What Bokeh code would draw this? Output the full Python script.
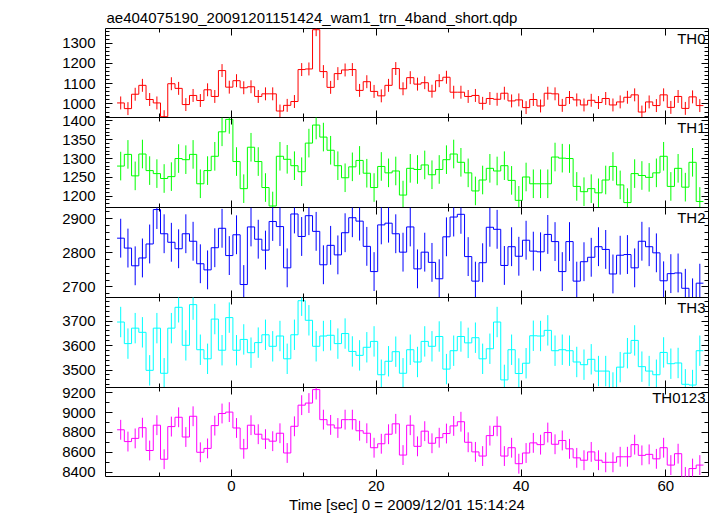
import math
from bokeh.plotting import figure
from bokeh.layouts import column
from bokeh.models import Range1d, SingleIntervalTicker, LinearAxis, Label, Title
from bokeh.embed import file_html
from bokeh.resources import INLINE

TITLE = "ae404075190_20091201151424_wam1_trn_4band_short.qdp"
XLABEL = "Time [sec] 0 = 2009/12/01 15:14:24"
YLABEL = "Counts/sec"

TIME = [-15.3, -14.3, -13.3, -12.3, -11.3, -10.3, -9.3, -8.3, -7.3, -6.3,
        -5.3, -4.3, -3.3, -2.3, -1.3, -0.3, 0.7, 1.7, 2.7, 3.7,
        4.7, 5.7, 6.7, 7.7, 8.7, 9.7, 10.7, 11.7, 12.7, 13.7,
        14.7, 15.7, 16.7, 17.7, 18.7, 19.7, 20.7, 21.7, 22.7, 23.7,
        24.7, 25.7, 26.7, 27.7, 28.7, 29.7, 30.7, 31.7, 32.7, 33.7,
        34.7, 35.7, 36.7, 37.7, 38.7, 39.7, 40.7, 41.7, 42.7, 43.7,
        44.7, 45.7, 46.7, 47.7, 48.7, 49.7, 50.7, 51.7, 52.7, 53.7,
        54.7, 55.7, 56.7, 57.7, 58.7, 59.7, 60.7, 61.7, 62.7, 63.7, 64.7]
BIN_WIDTH = 1.0

TH0 = [1005, 977, 1048, 1092, 1022, 1005, 937, 1100, 1077, 997,
       1042, 1017, 1070, 1037, 1165, 1083, 1115, 1080, 1085, 1037,
       1050, 1050, 965, 993, 1012, 1170, 1173, 1367, 1160, 1082,
       1150, 1168, 1170, 1067, 1110, 1062, 1040, 1092, 1175, 1075,
       1130, 1098, 1105, 1063, 1115, 1132, 1058, 1058, 1037, 1042,
       1003, 1027, 1023, 1053, 1015, 1020, 982, 1022, 990, 1053,
       1050, 993, 1032, 1020, 995, 1018, 1007, 1027, 995, 1010,
       1033, 1045, 960, 1010, 992, 1045, 983, 1037, 978, 1035, 992]

TH1 = [1280, 1311, 1254, 1312, 1268, 1260, 1247, 1252, 1300, 1297,
       1311, 1233, 1268, 1306, 1371, 1404, 1292, 1220, 1330, 1292,
       1223, 1174, 1306, 1298, 1281, 1265, 1341, 1389, 1357, 1322,
       1281, 1249, 1278, 1295, 1261, 1223, 1279, 1262, 1267, 1203,
       1274, 1271, 1283, 1257, 1271, 1297, 1312, 1290, 1262, 1214,
       1243, 1274, 1267, 1281, 1242, 1189, 1251, 1233, 1233, 1233,
       1304, 1301, 1300, 1226, 1212, 1220, 1209, 1243, 1279, 1230,
       1183, 1260, 1255, 1250, 1262, 1306, 1226, 1274, 1224, 1290, 1186]

TH2 = [2843, 2814, 2762, 2785, 2826, 2927, 2856, 2831, 2812, 2856,
       2834, 2768, 2750, 2815, 2872, 2792, 2853, 2707, 2876, 2840,
       2808, 2892, 2877, 2756, 2914, 2848, 2909, 2863, 2765, 2822,
       2794, 2859, 2903, 2893, 2819, 2745, 2882, 2887, 2856, 2802,
       2876, 2753, 2802, 2772, 2724, 2847, 2905, 2913, 2789, 2717,
       2771, 2875, 2869, 2763, 2818, 2790, 2837, 2805, 2803, 2854,
       2833, 2745, 2833, 2717, 2774, 2787, 2818, 2810, 2738, 2793,
       2795, 2756, 2834, 2818, 2800, 2718, 2739, 2741, 2696, 2668, 2711]

TH3 = [3696, 3608, 3671, 3654, 3499, 3671, 3487, 3671, 3756, 3601,
       3767, 3583, 3546, 3708, 3581, 3714, 3581, 3625, 3571, 3612,
       3644, 3597, 3639, 3546, 3644, 3783, 3703, 3597, 3639, 3642,
       3608, 3649, 3576, 3560, 3593, 3617, 3481, 3536, 3575, 3487,
       3583, 3533, 3617, 3597, 3637, 3504, 3579, 3637, 3611, 3632,
       3546, 3587, 3696, 3460, 3583, 3486, 3528, 3640, 3639, 3662,
       3579, 3583, 3579, 3533, 3522, 3544, 3496, 3496, 3429, 3512,
       3569, 3621, 3514, 3496, 3481, 3572, 3526, 3529, 3442, 3439, 3579]

TH0123 = [8826, 8707, 8739, 8847, 8617, 8872, 8529, 8858, 8952, 8753,
          8962, 8599, 8638, 8868, 8990, 9004, 8844, 8634, 8872, 8781,
          8732, 8711, 8791, 8592, 8861, 9074, 9095, 9231, 8928, 8875,
          8844, 8928, 8928, 8816, 8791, 8645, 8685, 8781, 8886, 8571,
          8872, 8659, 8812, 8690, 8746, 8788, 8865, 8907, 8700, 8603,
          8561, 8767, 8861, 8561, 8645, 8484, 8592, 8694, 8676, 8798,
          8680, 8718, 8634, 8543, 8519, 8603, 8519, 8498, 8498, 8554,
          8554, 8676, 8568, 8578, 8533, 8645, 8470, 8585, 8350, 8435, 8470]

BANDS = ["TH0", "TH1", "TH2", "TH3", "TH0123"]
SERIES = [TH0, TH1, TH2, TH3, TH0123]
ERRS = [32, 38, 57, 62, 100]
COLORS = ["#ff0000", "#00ff00", "#0000ff", "#00ffff", "#ff00ff"]
YLIMS = [(933, 1373), (1170, 1409), (2669, 2933), (3429, 3796), (8355, 9252)]
YMAJOR = [100, 50, 100, 100, 200]
YMINOR = [5, 5, 5, 5, 2]
X_RANGE = (-17.4, 65.9)

FONT = "Liberation Sans"
FS = "15px"

xr = Range1d(*X_RANGE)
frame_h = [89, 90, 90, 90, 89]
PAD = 8
figs = []
for i, band in enumerate(BANDS):
    top = 28 if i == 0 else PAD
    bottom = 39 if i == 4 else PAD
    p = figure(width=712, height=frame_h[i] + top + bottom, x_range=xr,
               y_range=Range1d(*YLIMS[i]), output_backend="svg",
               toolbar_location=None, x_axis_location=None, y_axis_location=None,
               min_border_left=105, min_border_right=4,
               min_border_top=top, min_border_bottom=bottom)
    if i > 0:
        p.margin = (-2 * PAD, 0, 0, 0)
    p.grid.visible = False
    p.outline_line_color = "black"
    p.outline_line_width = 1
    p.background_fill_color = "white"
    p.border_fill_color = None

    def yaxis(labels):
        return LinearAxis(ticker=SingleIntervalTicker(interval=YMAJOR[i], num_minor_ticks=YMINOR[i]),
                          major_tick_in=7, major_tick_out=0, minor_tick_in=4, minor_tick_out=0,
                          axis_line_color=None, major_tick_line_color="black",
                          minor_tick_line_color="black",
                          major_label_text_font=FONT, major_label_text_font_size=FS,
                          major_label_standoff=10 if labels else 0,
                          major_label_text_color="black" if labels else None)

    def xaxis(labels):
        return LinearAxis(ticker=SingleIntervalTicker(interval=20, num_minor_ticks=2),
                          major_tick_in=7, major_tick_out=0, minor_tick_in=4, minor_tick_out=0,
                          axis_line_color=None, major_tick_line_color="black",
                          minor_tick_line_color="black",
                          major_label_text_font=FONT, major_label_text_font_size=FS,
                          major_label_standoff=4 if labels else 0,
                          major_label_text_color="black" if labels else None)

    p.add_layout(yaxis(True), "left")
    p.add_layout(yaxis(False), "right")
    p.add_layout(xaxis(False), "above")
    xb = xaxis(i == 4)
    if i == 4:
        xb.axis_label = XLABEL
        xb.axis_label_text_font = FONT
        xb.axis_label_text_font_size = FS
        xb.axis_label_text_font_style = "normal"
        xb.axis_label_standoff = 2
        xb.axis_label_text_color = "black"
    p.add_layout(xb, "below")

    if i == 0:
        p.title = Title(text=TITLE, align="left", text_font=FONT, text_font_size=FS,
                        text_font_style="normal", text_color="black", standoff=6, offset=1)
    if i == 2:
        p.add_layout(Label(x=-71, y=32, x_units="screen", y_units="screen", text=YLABEL,
                           angle=math.pi / 2, text_align="center", text_baseline="middle",
                           text_font=FONT, text_font_size=FS, text_color="black"))

    vals = SERIES[i]
    edges = [t - BIN_WIDTH / 2 for t in TIME] + [TIME[-1] + BIN_WIDTH / 2]
    vext = vals + [vals[-1]]
    col = COLORS[i]
    lo = [v - ERRS[i] for v in vals]
    hi = [v + ERRS[i] for v in vals]
    p.step(x=edges, y=vext, mode="after", line_color=col, line_width=1)
    p.segment(x0=TIME, y0=lo, x1=TIME, y1=hi, line_color=col, line_width=1)

    p.add_layout(Label(x=X_RANGE[1], y=YLIMS[i][1], x_offset=-3, y_offset=-1, text=band,
                       text_align="right", text_baseline="top", text_font=FONT,
                       text_font_size=FS, text_color="black"))
    figs.append(p)

layout = column(*figs, spacing=0)
open("out.html", "w").write(file_html(layout, INLINE))
